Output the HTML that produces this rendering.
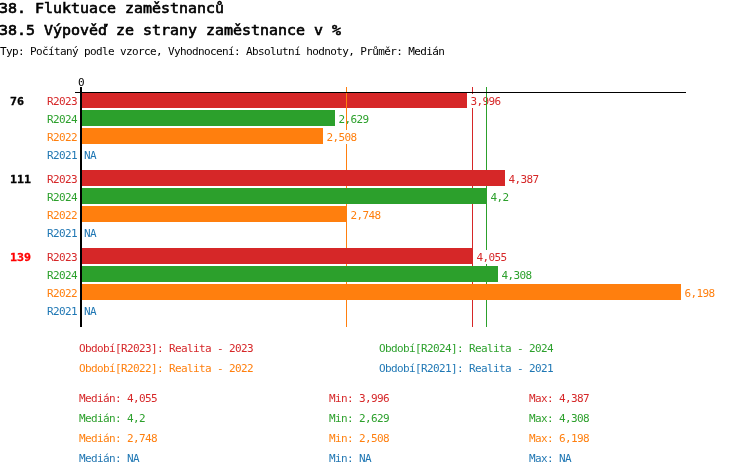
<!DOCTYPE html>
<html lang="cs"><head><meta charset="utf-8"><title>38. Fluktuace zaměstnanců</title>
<style>
html,body{margin:0;padding:0;background:#fff}
body{width:750px;height:476px;position:relative;overflow:hidden}
.t,.s,.m,.b,.l{position:absolute;white-space:pre;margin:0;padding:0}
.s{font:11px/13px "DejaVu Sans Mono","Liberation Mono",monospace;letter-spacing:-0.62px;color:#000}
.t{font:14px/15px "DejaVu Sans Mono","Liberation Mono",monospace;-webkit-text-stroke:0.6px;transform:scaleX(1.0677);transform-origin:0 0;color:#000}
.m{font:bold 11px/13px "DejaVu Sans Mono","Liberation Mono",monospace;transform:scaleX(1.057);transform-origin:0 0;color:#000;-webkit-text-stroke:0.3px}
.w{background:#fff}
.r{color:#d62728}.g{color:#2ca02c}.o{color:#ff7f0e}.u{color:#1f77b4}
.b{height:16px;left:80px}
.l{width:1px;top:87px;height:240px}
.br{background:#d62728}.bg{background:#2ca02c}.bo{background:#ff7f0e}
</style></head><body>
<div class="t" style="left:-0.6px;top:1px">38. Fluktuace zaměstnanců</div>
<div class="t" style="left:-0.6px;top:23px">38.5 Výpověď ze strany zaměstnance v %</div>
<div class="s " style="left:0px;top:45px">Typ: Počítaný podle vzorce, Vyhodnocení: Absolutní hodnoty, Průměr: Medián</div>
<div class="s " style="left:78px;top:76px">0</div>
<div class="l br" style="left:472px"></div>
<div class="s r" style="left:47px;top:95px">R2023</div>
<div class="b br" style="top:92px;width:387px"></div>
<div class="s r w" style="left:470px;top:94px;padding:1px 0 0 0.5px">3,996</div>
<div class="l bg" style="left:486px"></div>
<div class="s g" style="left:47px;top:113px">R2024</div>
<div class="b bg" style="top:110px;width:255px"></div>
<div class="s g w" style="left:338px;top:112px;padding:1px 0 0 0.5px">2,629</div>
<div class="l bo" style="left:346px"></div>
<div class="s o" style="left:47px;top:131px">R2022</div>
<div class="b bo" style="top:128px;width:243px"></div>
<div class="s o w" style="left:326px;top:130px;padding:1px 0 0 0.5px">2,508</div>
<div class="s u" style="left:47px;top:149px">R2021</div>
<div class="s u" style="left:84px;top:149px">NA</div>
<div class="s r" style="left:47px;top:173px">R2023</div>
<div class="b br" style="top:170px;width:425px"></div>
<div class="s r w" style="left:508px;top:172px;padding:1px 0 0 0.5px">4,387</div>
<div class="s g" style="left:47px;top:191px">R2024</div>
<div class="b bg" style="top:188px;width:407px"></div>
<div class="s g w" style="left:490px;top:190px;padding:1px 0 0 0.5px">4,2</div>
<div class="s o" style="left:47px;top:209px">R2022</div>
<div class="b bo" style="top:206px;width:267px"></div>
<div class="s o w" style="left:350px;top:208px;padding:1px 0 0 0.5px">2,748</div>
<div class="s u" style="left:47px;top:227px">R2021</div>
<div class="s u" style="left:84px;top:227px">NA</div>
<div class="s r" style="left:47px;top:251px">R2023</div>
<div class="b br" style="top:248px;width:393px"></div>
<div class="s r w" style="left:476px;top:250px;padding:1px 0 0 0.5px">4,055</div>
<div class="s g" style="left:47px;top:269px">R2024</div>
<div class="b bg" style="top:266px;width:418px"></div>
<div class="s g w" style="left:501px;top:268px;padding:1px 0 0 0.5px">4,308</div>
<div class="s o" style="left:47px;top:287px">R2022</div>
<div class="b bo" style="top:284px;width:601px"></div>
<div class="s o w" style="left:684px;top:286px;padding:1px 0 0 0.5px">6,198</div>
<div class="s u" style="left:47px;top:305px">R2021</div>
<div class="s u" style="left:84px;top:305px">NA</div>
<div class="m" style="left:9.5px;top:95px;color:#000">76</div>
<div class="m" style="left:9.5px;top:173px;color:#000">111</div>
<div class="m" style="left:9.5px;top:251px;color:#f00">139</div>
<div style="position:absolute;left:80px;top:87px;width:2px;height:240px;background:#000"></div>
<div style="position:absolute;left:75px;top:92px;width:611px;height:1px;background:#000"></div>
<div class="s r" style="left:79px;top:342px">Období[R2023]: Realita - 2023</div>
<div class="s g" style="left:379px;top:342px">Období[R2024]: Realita - 2024</div>
<div class="s o" style="left:79px;top:362px">Období[R2022]: Realita - 2022</div>
<div class="s u" style="left:379px;top:362px">Období[R2021]: Realita - 2021</div>
<div class="s r" style="left:79px;top:392px">Medián: 4,055</div>
<div class="s r" style="left:329px;top:392px">Min: 3,996</div>
<div class="s r" style="left:529px;top:392px">Max: 4,387</div>
<div class="s g" style="left:79px;top:412px">Medián: 4,2</div>
<div class="s g" style="left:329px;top:412px">Min: 2,629</div>
<div class="s g" style="left:529px;top:412px">Max: 4,308</div>
<div class="s o" style="left:79px;top:432px">Medián: 2,748</div>
<div class="s o" style="left:329px;top:432px">Min: 2,508</div>
<div class="s o" style="left:529px;top:432px">Max: 6,198</div>
<div class="s u" style="left:79px;top:452px">Medián: NA</div>
<div class="s u" style="left:329px;top:452px">Min: NA</div>
<div class="s u" style="left:529px;top:452px">Max: NA</div>
</body></html>
